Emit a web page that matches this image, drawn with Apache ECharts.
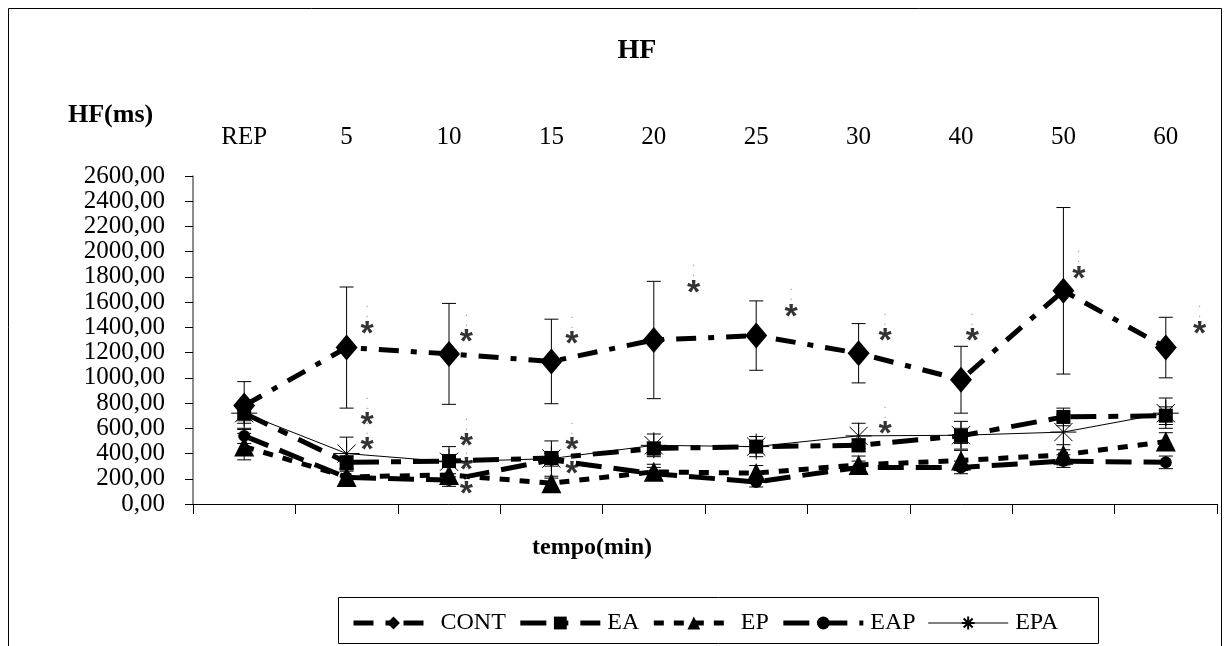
<!DOCTYPE html>
<html>
<head>
<meta charset="utf-8">
<script src="https://cdn.jsdelivr.net/npm/echarts@6/dist/echarts.min.js"></script>
<style>
  html, body { margin: 0; padding: 0; background: #fff; }
  #main { width: 1231px; height: 646px; }
</style>
</head>
<body>
<div id="main"></div>
<script>
// tempo (min)
var categories = ['REP', '5', '10', '15', '20', '25', '30', '40', '50', '60'];

// HF (ms) means and error bars
var cont = [780, 1240, 1190, 1130, 1300, 1335, 1195, 985, 1690, 1240];
var contErr = [190, 480, 400, 335, 465, 275, 235, 265, 660, 240];
var ea = [720, 330, 340, 365, 440, 455, 465, 540, 690, 700];
var eaErr = [60, 50, 50, 50, 50, 40, 50, 60, 70, 70];
var ep = [455, 215, 230, 165, 255, 245, 310, 345, 390, 495];
var epErr = [105, 60, 60, 40, 60, 60, 70, 80, 80, 70];
var eap = [540, 210, 190, 350, 240, 175, 290, 290, 340, 330];
var eapErr = [60, 50, 50, 50, 50, 40, 50, 50, 50, 50];
var epa = [720, 400, 335, 360, 465, 455, 540, 545, 570, 720];
var epaErr = [80, 130, 120, 140, 90, 80, 100, 110, 140, 120];

// significance marks: category index, value
var starCat = [1, 1, 1, 2, 2, 2, 2, 3, 3, 3, 4, 5, 6, 6, 7, 8, 9];
var starVal = [1421, 698, 500, 1357, 532, 341, 151, 1341, 500, 310, 1746, 1556, 1365, 627, 1365, 1857, 1421];
// horizontal shift of each mark, as a fraction of a category
var starShift = [0.2, 0.2, 0.2, 0.17, 0.17, 0.17, 0.17, 0.2, 0.2, 0.2, 0.39, 0.34, 0.26, 0.26, 0.11, 0.15, 0.33];

var yTicks = { min: 0, max: 2600, interval: 200 };

var serif = 'Liberation Serif';

function errRows(vals, errs) {
    return vals.map(function (v, i) { return [i, v - errs[i], v + errs[i]]; });
}
var errData = [].concat(
    errRows(cont, contErr), errRows(ea, eaErr), errRows(ep, epErr),
    errRows(eap, eapErr), errRows(epa, epaErr)
);

var starPath = 'path://M10,0L10,20M0,10L20,10M3,3L17,17M17,3L3,17';

function lineSeries(name, data, symbol, size, dash, width) {
    return {
        name: name,
        type: 'line',
        data: data,
        symbol: symbol,
        symbolSize: size,
        showSymbol: true,
        color: '#000',
        lineStyle: { color: '#000', width: width, type: dash },
        itemStyle: { color: '#000' },
        z: 3
    };
}

var epaSeries = lineSeries('EPA', epa, starPath, 26, 'solid', 1);
epaSeries.itemStyle = { color: 'none', borderColor: '#000', borderWidth: 1 };

var options = {
    animation: false,
    title: {
        text: 'HF',
        left: 632,
        top: 32,
        textAlign: 'center',
        textStyle: { fontFamily: serif, fontSize: 28, fontWeight: 'bold', color: '#000' }
    },
    grid: { left: 193, right: 14, top: 176, bottom: 142 },
    legend: {
        left: 346,
        top: 606,
        itemWidth: 80,
        itemHeight: 16,
        itemGap: 12,
        data: [
            { name: 'CONT', lineStyle: { width: 5 } },
            { name: 'EA', lineStyle: { width: 5 } },
            { name: 'EP', lineStyle: { width: 5 } },
            { name: 'EAP', lineStyle: { width: 5 } },
            { name: 'EPA', lineStyle: { width: 1 } }
        ],
        textStyle: { fontFamily: serif, fontSize: 24, color: '#000', padding: [0, 0, 0, 2] }
    },
    xAxis: [{
        type: 'category',
        data: categories,
        axisLine: { onZero: false, lineStyle: { color: '#000', width: 1 } },
        axisTick: { show: true, length: 10, lineStyle: { color: '#000' } },
        axisLabel: { show: false }
    }, {
        type: 'category',
        data: categories,
        position: 'top',
        axisLine: { show: false },
        axisTick: { show: false },
        axisLabel: { margin: 26, fontFamily: serif, fontSize: 25, color: '#000' }
    }, {
        type: 'value',
        min: -0.5,
        max: categories.length - 0.5,
        show: false
    }],
    yAxis: {
        type: 'value',
        min: yTicks.min,
        max: yTicks.max,
        interval: yTicks.interval,
        splitLine: { show: false },
        axisLine: { show: true, onZero: false, lineStyle: { color: '#666', width: 1.5 } },
        axisTick: { show: true, length: 8, lineStyle: { color: '#000' } },
        axisLabel: {
            margin: 28,
            fontFamily: serif,
            fontSize: 25,
            color: '#000',
            formatter: function (v) { return v.toFixed(2).replace('.', ','); }
        }
    },
    graphic: [
        { type: 'rect', shape: { x: 8.5, y: 8.5, width: 1213, height: 700 },
          style: { fill: 'none', stroke: '#000', lineWidth: 1 }, silent: true },
        { type: 'rect', shape: { x: 338.5, y: 597.5, width: 760, height: 46 },
          style: { fill: 'none', stroke: '#000', lineWidth: 1 }, silent: true },
        { type: 'text', left: 68, top: 102,
          style: { text: 'HF(ms)', font: 'bold 26px "Liberation Serif"', fill: '#000' } },
        { type: 'text', left: 532, top: 536,
          style: { text: 'tempo(min)', font: 'bold 24px "Liberation Serif"', fill: '#000' } }
    ],
    series: [
        {
            type: 'custom',
            name: 'err',
            data: errData,
            z: 2,
            renderItem: function (params, api) {
                var lo = api.coord([api.value(0), api.value(1)]);
                var hi = api.coord([api.value(0), api.value(2)]);
                var w = 7;
                var st = { stroke: '#000', lineWidth: 1 };
                return {
                    type: 'group',
                    children: [
                        { type: 'line', shape: { x1: lo[0], y1: lo[1], x2: hi[0], y2: hi[1] }, style: st },
                        { type: 'line', shape: { x1: lo[0] - w, y1: lo[1], x2: lo[0] + w, y2: lo[1] }, style: st },
                        { type: 'line', shape: { x1: hi[0] - w, y1: hi[1], x2: hi[0] + w, y2: hi[1] }, style: st }
                    ]
                };
            }
        },
        epaSeries,
        lineSeries('EAP', eap, 'circle', 12, [26, 12], 5),
        lineSeries('EP', ep, 'triangle', [20, 20], [10, 10], 5),
        lineSeries('EA', ea, 'rect', 14, [26, 12, 10, 12], 5),
        lineSeries('CONT', cont, 'diamond', [22, 26], [20, 12, 6, 12], 5),
        {
            type: 'scatter',
            name: 'marks',
            xAxisIndex: 2,
            data: starCat.map(function (c, i) { return [c + starShift[i], starVal[i]]; }),
            symbol: 'circle',
            symbolSize: 2,
            itemStyle: { color: 'rgba(0,0,0,0)' },
            z: 4,
            label: {
                show: true,
                position: 'inside',
                offset: [0, 2],
                formatter: '{d|.}\n{d|.}\n{s|*}',
                rich: {
                    d: { fontSize: 10, lineHeight: 10, color: '#777', fontFamily: 'Liberation Sans' },
                    s: { fontSize: 34, lineHeight: 30, color: '#000', fontWeight: 'bold', fontFamily: 'Liberation Sans' }
                }
            },
            labelLayout: { hideOverlap: false }
        }
    ]
};

var chart = echarts.init(document.getElementById('main'));
chart.setOption(options);
</script>
</body>
</html>
